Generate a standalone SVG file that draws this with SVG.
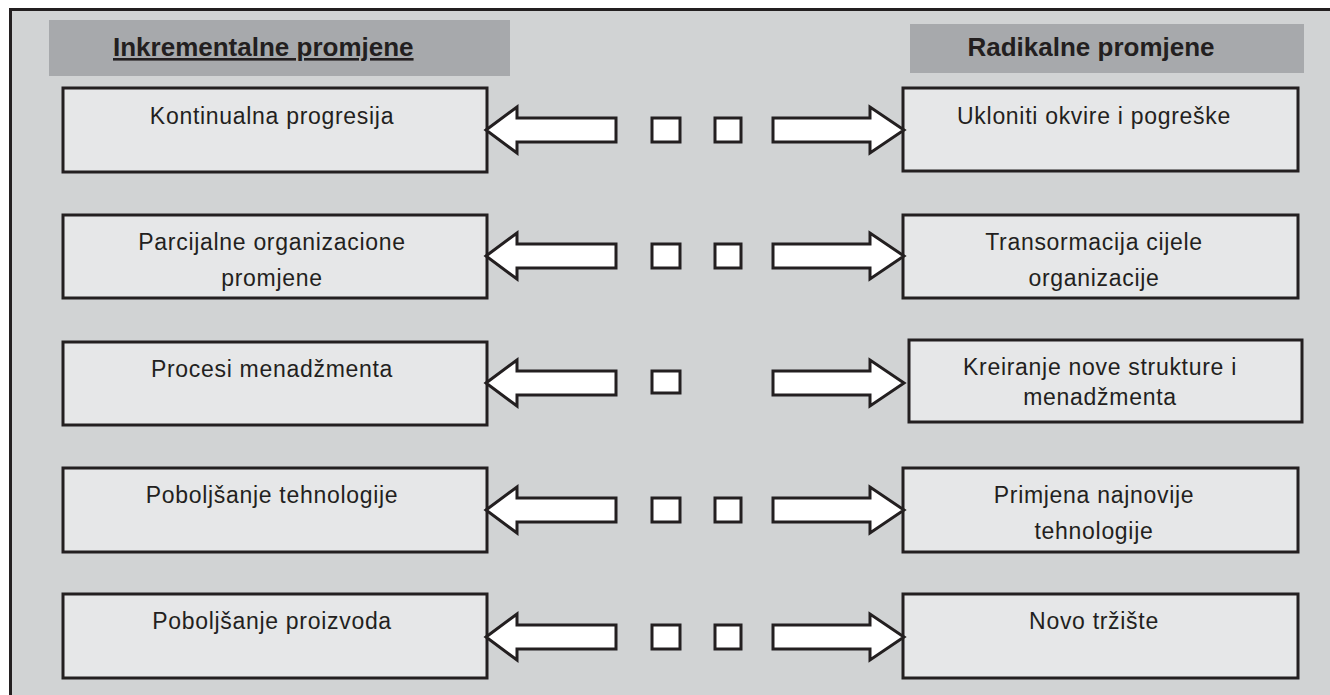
<svg xmlns="http://www.w3.org/2000/svg" width="1330" height="695" viewBox="0 0 1330 695">
<defs>
<style>
.frame{fill:#d1d3d4;stroke:#231f20;stroke-width:3}
.hdr{fill:#a7a9ac}
.box{fill:#e6e7e8;stroke:#231f20;stroke-width:3}
.arr{fill:#ffffff;stroke:#231f20;stroke-width:3}
.t{font-family:"Liberation Sans",Arial,sans-serif;font-size:23px;letter-spacing:0.7px;fill:#231f20;text-anchor:middle}
.h{font-family:"Liberation Sans",Arial,sans-serif;font-size:26px;font-weight:bold;fill:#231f20}
</style>
<g id="arrowset">
<polygon class="arr" points="486,0 517,-23 517,-12 616,-12 616,12 517,12 517,23"/>
<polygon class="arr" points="773,-12 870,-12 870,-23 904,0 870,23 870,12 773,12"/>
</g>
</defs>
<rect width="1330" height="695" fill="#ffffff"/>
<rect class="frame" x="10.5" y="9.5" width="1340" height="700"/>
<g id="header-left">
<rect class="hdr" x="49" y="20" width="461" height="56"/>
<text class="h" x="113" y="56" text-decoration="underline">Inkrementalne promjene </text>
</g>
<g id="header-right">
<rect class="hdr" x="910" y="24" width="394" height="49"/>
<text class="h" x="1091" y="56" text-anchor="middle">Radikalne promjene</text>
</g>
<g id="L1"><rect class="box" x="63" y="88" width="424" height="84"/><text class="t" x="272" y="124">Kontinualna progresija</text></g>
<g id="L2"><rect class="box" x="63" y="215" width="424" height="83"/><text class="t" x="272" y="250">Parcijalne organizacione</text><text class="t" x="272" y="286">promjene</text></g>
<g id="L3"><rect class="box" x="63" y="342" width="424" height="83"/><text class="t" x="272" y="377">Procesi menadžmenta</text></g>
<g id="L4"><rect class="box" x="63" y="468" width="424" height="84"/><text class="t" x="272" y="503">Poboljšanje tehnologije</text></g>
<g id="L5"><rect class="box" x="63" y="594" width="424" height="84"/><text class="t" x="272" y="629">Poboljšanje proizvoda</text></g>
<g id="R1"><rect class="box" x="903" y="88" width="395" height="83"/><text class="t" x="1094" y="124">Ukloniti okvire i pogreške</text></g>
<g id="R2"><rect class="box" x="903" y="215" width="395" height="83"/><text class="t" x="1094" y="250">Transormacija cijele</text><text class="t" x="1094" y="286">organizacije</text></g>
<g id="R3"><rect class="box" x="909" y="340" width="393" height="82"/><text class="t" x="1100" y="375">Kreiranje nove strukture i</text><text class="t" x="1100" y="405">menadžmenta</text></g>
<g id="R4"><rect class="box" x="903" y="468" width="395" height="84"/><text class="t" x="1094" y="503">Primjena najnovije</text><text class="t" x="1094" y="539">tehnologije</text></g>
<g id="R5"><rect class="box" x="903" y="594" width="395" height="84"/><text class="t" x="1094" y="629">Novo tržište</text></g>
<g id="connectors">
<use href="#arrowset" transform="translate(0,130)"/>
<use href="#arrowset" transform="translate(0,256)"/>
<use href="#arrowset" transform="translate(0,383)"/>
<use href="#arrowset" transform="translate(0,510)"/>
<use href="#arrowset" transform="translate(0,637)"/>
<rect class="arr" x="652" y="118" width="28" height="24"/><rect class="arr" x="715" y="118" width="26" height="24"/>
<rect class="arr" x="652" y="244" width="28" height="24"/><rect class="arr" x="715" y="244" width="26" height="24"/>
<rect class="arr" x="652" y="371" width="28" height="22"/>
<rect class="arr" x="652" y="498" width="28" height="24"/><rect class="arr" x="715" y="498" width="26" height="24"/>
<rect class="arr" x="652" y="625" width="28" height="24"/><rect class="arr" x="715" y="625" width="26" height="24"/>
</g>
</svg>
